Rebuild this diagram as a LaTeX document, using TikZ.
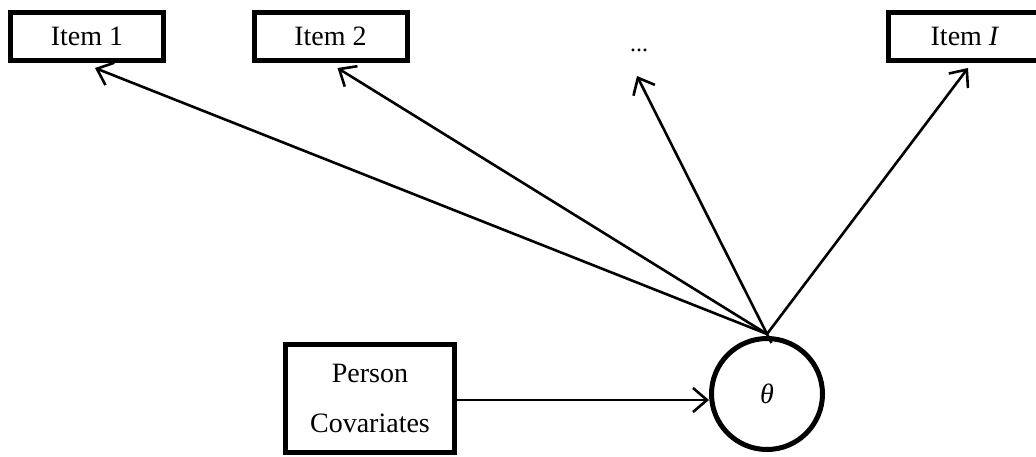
\documentclass[tikz,border=0pt]{standalone}
\usepackage{fontspec}
\setmainfont{Liberation Serif}
\usetikzlibrary{arrows.meta,calc}
\begin{document}
\begin{tikzpicture}[x=1pt,y=-1pt,
  itembox/.style={draw, line width=5pt, minimum width=153pt, minimum height=48pt, inner sep=0pt,
    font=\fontsize{28}{34}\selectfont},
  latent/.style={draw, circle, line width=5pt, minimum size=111pt, inner sep=0pt,
    font=\fontsize{28}{34}\selectfont},
  link/.style={line width=2.6pt, -{Straight Barb[length=14pt,width=24pt,line width=2.6pt]}}]
\useasboundingbox (0,0) rectangle (1036,456);
% observed items
\node[itembox] (item1) at (87,36.5) {Item 1};
\node[itembox] (item2) at (330.5,36.5) {Item 2};
\node[font=\fontsize{24}{28}\selectfont, anchor=base] (dots) at (639,51) {...};
\node[itembox] (itemI) at (965,36.5) {Item \textit{I}};
% latent trait and covariates
\node[latent] (theta) at (767,394) {\textit{θ}};
\node[itembox, minimum width=169pt, minimum height=108pt, align=center,
  font=\fontsize{28}{50}\selectfont] (person) at (370,398.5) {Person\\Covariates};
% loadings
\coordinate (src) at ([yshift=2pt]theta.north);
\coordinate (dotstip) at ([xshift=-2pt,yshift=-25pt]dots.base);
\draw[link] (src) -- ([xshift=8pt,yshift=-5pt]item1.south);
\draw[link] (src) -- ([xshift=7pt,yshift=-5pt]item2.south);
\draw[link] ($(src)!-10pt!(dotstip)$) -- (dotstip);
\draw[link] (src) -- ([xshift=3pt,yshift=-5pt]itemI.south);
% covariate effect
\draw[link] (person.east |- 0,400) -- (theta.west |- 0,400);
\end{tikzpicture}
\end{document}
